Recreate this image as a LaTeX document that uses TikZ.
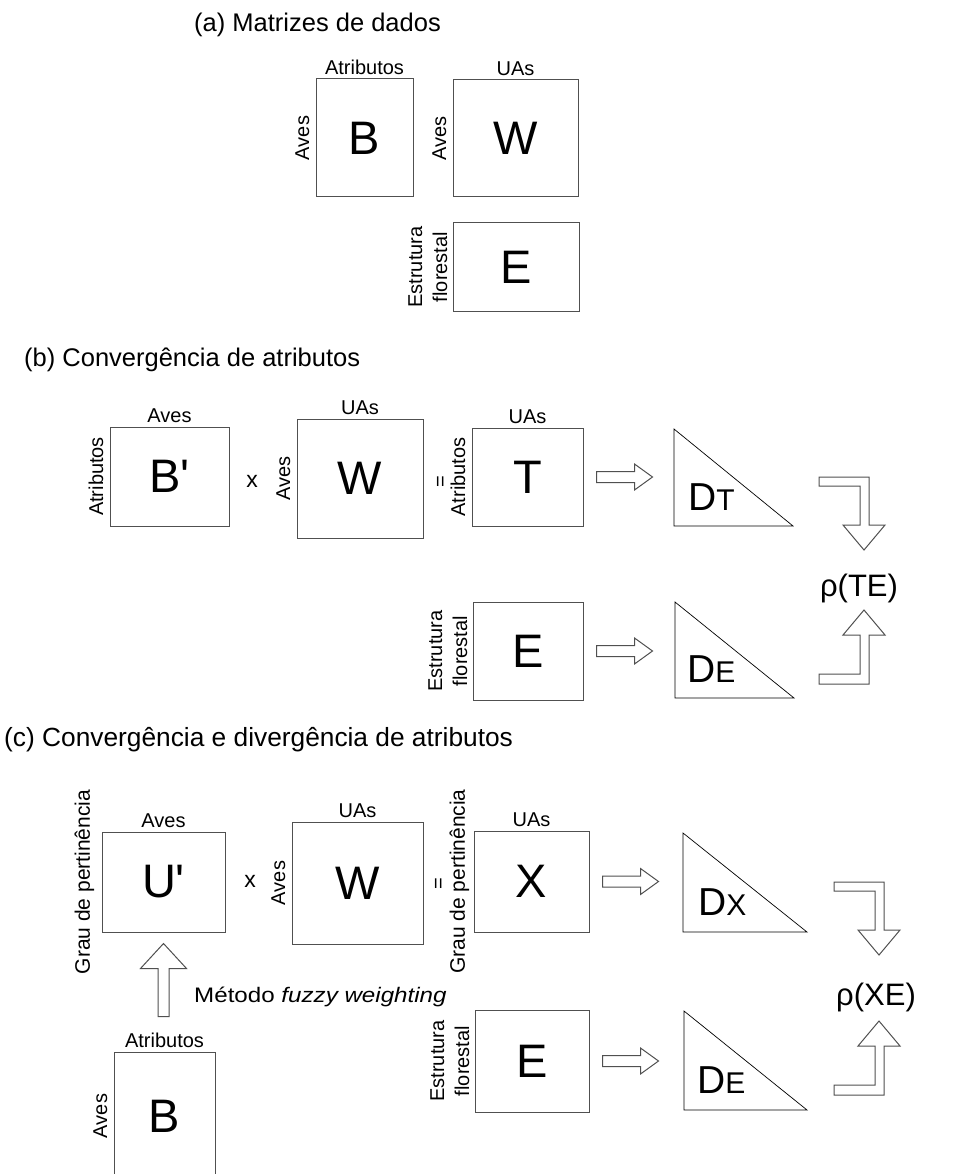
\documentclass[tikz,border=0pt]{standalone}
\usepackage{fontspec}
\setmainfont{Liberation Sans}
\usetikzlibrary{positioning}
\tikzset{>=latex}
\definecolor{boxline}{HTML}{505050}
\tikzset{
  matbox/.style={draw=boxline, line width=1pt, inner sep=0pt, font=\fontsize{47}{47}\selectfont},
  toplbl/.style={inner sep=0pt, font=\fontsize{20}{20}\selectfont},
  sidelbl/.style={inner sep=0pt, rotate=90, anchor=south, align=center, font=\fontsize{20}{25}\selectfont},
  ttl/.style={anchor=west, inner sep=0pt, font=\fontsize{25.5}{25.5}\selectfont},
  dist/.style={draw=black, line width=0.7pt},
  fatarrow/.style={draw=boxline, line width=1pt, fill=white, line join=miter},
  rarrow/.pic={\draw[fatarrow] (0,-5.5) -- (38,-5.5) -- (38,-13) -- (56,0) -- (38,13) -- (38,5.5) -- (0,5.5) -- cycle;},
  uarrow/.pic={\draw[fatarrow] (-5.5,0) -- (-5.5,-48) -- (-23,-48) -- (0,-73) -- (23,-48) -- (5.5,-48) -- (5.5,0) -- cycle;},
  bentdown/.pic={\draw[fatarrow] (0,0) -- (50,0) -- (50,48) -- (66,48) -- (45,73) -- (24,48) -- (41,48) -- (41,9) -- (0,9) -- cycle;},
  bentup/.pic={\draw[fatarrow] (0,0) -- (50,0) -- (50,-49) -- (66,-49) -- (45,-74) -- (24,-49) -- (41,-49) -- (41,-10) -- (0,-10) -- cycle;},
}
\newcommand{\dmat}[1]{{\fontsize{39}{39}\selectfont D}{\fontsize{30}{30}\selectfont #1}}

\begin{document}
\begin{tikzpicture}[x=1pt, y=-1pt]
\useasboundingbox (0,0) rectangle (959,1174);

% (a) matrizes
\node[ttl] (ta) at (194,25) {(a) Matrizes de dados};
\node[matbox, minimum width=97pt, minimum height=118pt] (Ba) at (364.5,138) {B};
\node[toplbl, above=4pt of Ba] (Ba-top) {Atributos};
\node[sidelbl] (Ba-side) at ([xshift=-6pt]Ba.west) {Aves};
\node[matbox, minimum width=125pt, minimum height=117pt] (Wa) at (515.5,138.5) {W};
\node[toplbl, above=4pt of Wa] (Wa-top) {UAs};
\node[sidelbl] (Wa-side) at ([xshift=-6pt]Wa.west) {Aves};
\node[matbox, minimum width=126pt, minimum height=88pt] (Ea) at (516,267) {E};
\node[sidelbl] (Ea-side) at ([xshift=-5pt]Ea.west) {Estrutura\\florestal};

% (b) convergencia
\node[ttl] (tb) at (24,360) {(b) Convergência de atributos};
\node[matbox, minimum width=119pt, minimum height=99pt] (Bb) at (169.5,476.5) {B\textquotesingle};
\node[toplbl, above=4pt of Bb] (Bb-top) {Aves};
\node[sidelbl] (Bb-side) at ([xshift=-6pt]Bb.west) {Atributos};
\node[toplbl, font=\fontsize{23}{23}\selectfont] (xb) at (252,481) {x};
\node[matbox, minimum width=126pt, minimum height=119pt] (Wb) at (360,478.5) {W};
\node[toplbl, above=4pt of Wb] (Wb-top) {UAs};
\node[sidelbl] (Wb-side) at ([xshift=-6pt]Wb.west) {Aves};
\node[toplbl, rotate=90] (eqb) at (442,482) {=};
\node[matbox, minimum width=111pt, minimum height=98pt] (Tb) at (527.5,477) {T};
\node[toplbl, above=4pt of Tb] (Tb-top) {UAs};
\node[sidelbl] (Tb-side) at ([xshift=-6pt]Tb.west) {Atributos};
\node[matbox, minimum width=110pt, minimum height=98pt] (Eb) at (528,651) {E};
\node[sidelbl] (Eb-side) at ([xshift=-5pt]Eb.west) {Estrutura\\florestal};
\draw[dist] (674,429) coordinate (DTb) -- (674,526) -- (793,526) -- cycle;
\node[inner sep=0pt, anchor=base west] (DTb-txt) at (688,510) {\dmat{T}};
\draw[dist] (675,602) coordinate (DEb) -- (675,698) -- (794,698) -- cycle;
\node[inner sep=0pt, anchor=base west] (DEb-txt) at (687,682) {\dmat{E}};
\pic at ([xshift=13pt]Tb.east) {rarrow};
\pic at ([xshift=13pt]Eb.east) {rarrow};
\node[inner sep=0pt, font=\fontsize{31}{31}\selectfont] (rhoT) at (859,588) {ρ(TE)};
\pic at ([shift={(-40,-111)}]rhoT.center) {bentdown};
\pic at ([shift={(-40,96)}]rhoT.center) {bentup};

% (c) convergencia e divergencia
\node[ttl, font=\fontsize{26.3}{26.3}\selectfont] (tc) at (4,740) {(c) Convergência e divergência de atributos};
\node[matbox, minimum width=123pt, minimum height=100pt] (Uc) at (163.5,882) {U\textquotesingle};
\node[toplbl, above=4pt of Uc] (Uc-top) {Aves};
\node[sidelbl, font=\fontsize{21}{21}\selectfont] (Uc-side) at ([xshift=-7pt]Uc.west) {Grau de pertinência};
\node[toplbl, font=\fontsize{23}{23}\selectfont] (xc) at (250,881) {x};
\node[matbox, minimum width=131pt, minimum height=122pt] (Wc) at (357.5,883) {W};
\node[toplbl, above=4pt of Wc] (Wc-top) {UAs};
\node[sidelbl] (Wc-side) at ([xshift=-6pt]Wc.west) {Aves};
\node[toplbl, rotate=90] (eqc) at (440,884) {=};
\node[matbox, minimum width=115pt, minimum height=101pt] (Xc) at (531.5,881.5) {X};
\node[toplbl, above=4pt of Xc] (Xc-top) {UAs};
\node[sidelbl, font=\fontsize{21}{21}\selectfont] (Xc-side) at ([xshift=-4pt]Xc.west) {Grau de pertinência};
\node[matbox, minimum width=101pt, minimum height=128pt] (Bc) at (164.5,1116) {B};
\node[toplbl, above=4pt of Bc] (Bc-top) {Atributos};
\node[sidelbl] (Bc-side) at ([xshift=-6pt]Bc.west) {Aves};
\pic at ([shift={(0,84)}]Uc.south) {uarrow};
\node[toplbl, anchor=west, xscale=1.15, font=\fontsize{21}{21}\selectfont] (meth) at (194,997) {Método \textit{fuzzy weighting}};
\node[matbox, minimum width=114pt, minimum height=102pt] (Ec) at (532,1061) {E};
\node[sidelbl] (Ec-side) at ([xshift=-5pt]Ec.west) {Estrutura\\florestal};
\draw[dist] (683,833) coordinate (DXc) -- (683,932) -- (807,932) -- cycle;
\node[inner sep=0pt, anchor=base west] (DXc-txt) at (698,915) {\dmat{X}};
\draw[dist] (684,1011) coordinate (DEc) -- (684,1110) -- (807,1110) -- cycle;
\node[inner sep=0pt, anchor=base west] (DEc-txt) at (697,1093) {\dmat{E}};
\pic at ([xshift=13pt]Xc.east) {rarrow};
\pic at ([xshift=13pt]Ec.east) {rarrow};
\node[inner sep=0pt, font=\fontsize{31}{31}\selectfont] (rhoX) at (876,997) {ρ(XE)};
\pic at ([shift={(-42,-115)}]rhoX.center) {bentdown};
\pic at ([shift={(-42,98)}]rhoX.center) {bentup};
\end{tikzpicture}
\end{document}
